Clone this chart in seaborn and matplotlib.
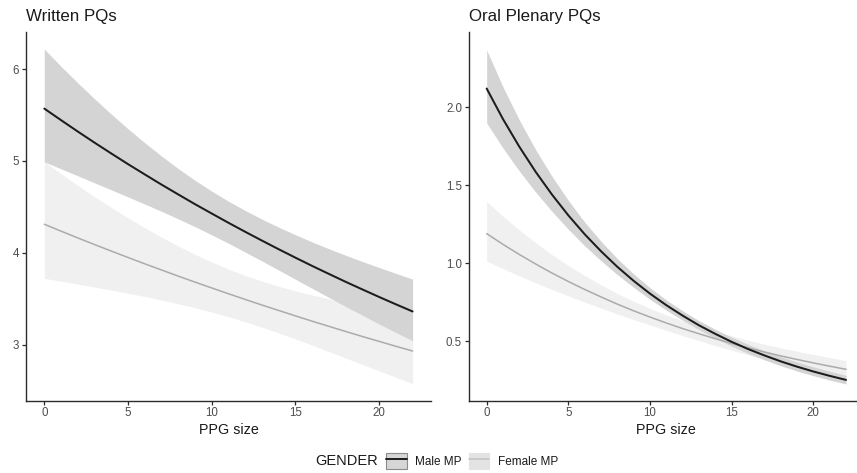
import matplotlib
matplotlib.use("Agg")
import matplotlib.pyplot as plt
import pandas as pd
import seaborn as sns
from matplotlib.patches import Patch
from matplotlib.lines import Line2D
from matplotlib.legend_handler import HandlerTuple

# PPG size grid at which the fitted curves are reported
ppg_size = list(range(0, 23))

# Written PQs: fitted counts and 95% intervals
written_male_fit = [5.570, 5.444, 5.320, 5.199, 5.081, 4.965, 4.853, 4.742, 4.635, 4.529, 4.427, 4.326,
                    4.228, 4.132, 4.038, 3.946, 3.856, 3.769, 3.683, 3.600, 3.518, 3.438, 3.360]
written_male_lo = [4.990, 4.914, 4.838, 4.761, 4.685, 4.608, 4.530, 4.451, 4.369, 4.284, 4.195, 4.103,
                   4.007, 3.910, 3.811, 3.711, 3.612, 3.513, 3.415, 3.319, 3.224, 3.131, 3.040]
written_male_hi = [6.218, 6.030, 5.850, 5.677, 5.510, 5.350, 5.198, 5.053, 4.917, 4.789, 4.671, 4.561,
                   4.460, 4.366, 4.278, 4.196, 4.117, 4.043, 3.972, 3.904, 3.839, 3.775, 3.713]
written_female_fit = [4.310, 4.235, 4.161, 4.089, 4.018, 3.948, 3.879, 3.812, 3.745, 3.680, 3.616, 3.553,
                      3.491, 3.430, 3.371, 3.312, 3.254, 3.198, 3.142, 3.087, 3.034, 2.981, 2.929]
written_female_lo = [3.721, 3.690, 3.658, 3.626, 3.593, 3.558, 3.523, 3.485, 3.444, 3.401, 3.354, 3.303,
                     3.248, 3.189, 3.126, 3.061, 2.993, 2.923, 2.853, 2.783, 2.713, 2.643, 2.575]
written_female_hi = [4.993, 4.861, 4.733, 4.611, 4.493, 4.380, 4.272, 4.169, 4.073, 3.982, 3.898, 3.822,
                     3.752, 3.690, 3.634, 3.584, 3.539, 3.498, 3.460, 3.425, 3.392, 3.361, 3.332]

# Oral Plenary PQs: fitted counts and 95% intervals
oral_male_fit = [2.120, 1.924, 1.747, 1.586, 1.440, 1.307, 1.186, 1.077, 0.977, 0.887, 0.805, 0.731,
                 0.664, 0.602, 0.547, 0.496, 0.450, 0.409, 0.371, 0.337, 0.306, 0.278, 0.252]
oral_male_lo = [1.899, 1.738, 1.591, 1.456, 1.332, 1.218, 1.112, 1.016, 0.927, 0.845, 0.769, 0.699,
                0.634, 0.574, 0.519, 0.468, 0.422, 0.381, 0.343, 0.309, 0.279, 0.251, 0.226]
oral_male_hi = [2.367, 2.130, 1.918, 1.728, 1.557, 1.403, 1.264, 1.141, 1.030, 0.931, 0.843, 0.764,
                0.695, 0.632, 0.576, 0.526, 0.480, 0.439, 0.401, 0.367, 0.336, 0.308, 0.281]
oral_female_fit = [1.190, 1.121, 1.056, 0.995, 0.937, 0.883, 0.832, 0.784, 0.738, 0.695, 0.655, 0.617,
                   0.581, 0.548, 0.516, 0.486, 0.458, 0.431, 0.406, 0.383, 0.361, 0.340, 0.320]
oral_female_lo = [1.014, 0.966, 0.919, 0.875, 0.832, 0.791, 0.751, 0.713, 0.675, 0.639, 0.604, 0.570,
                  0.536, 0.504, 0.472, 0.442, 0.414, 0.386, 0.360, 0.337, 0.314, 0.293, 0.273]
oral_female_hi = [1.396, 1.301, 1.213, 1.132, 1.055, 0.986, 0.921, 0.862, 0.806, 0.756, 0.710, 0.668,
                  0.630, 0.596, 0.564, 0.534, 0.507, 0.481, 0.457, 0.436, 0.415, 0.395, 0.376]

panel_titles = ["Written PQs", "Oral Plenary PQs"]
genders = ["Male MP", "Female MP"]
written_yticks = [3, 4, 5, 6]
oral_yticks = [0.5, 1.0, 1.5, 2.0]
xticks = [0, 5, 10, 15, 20]


def panel_frame(panel, male, female):
    rows = []
    for gender, (fit, lo, hi) in zip(genders, [male, female]):
        for x, f, l, h in zip(ppg_size, fit, lo, hi):
            rows.append({"panel": panel, "GENDER": gender, "PPG size": x,
                         "fit": f, "lo": l, "hi": h})
    return pd.DataFrame(rows)


df = pd.concat([
    panel_frame(panel_titles[0],
                (written_male_fit, written_male_lo, written_male_hi),
                (written_female_fit, written_female_lo, written_female_hi)),
    panel_frame(panel_titles[1],
                (oral_male_fit, oral_male_lo, oral_male_hi),
                (oral_female_fit, oral_female_lo, oral_female_hi)),
], ignore_index=True)

sns.set_theme(style="white")
plt.rcParams["font.family"] = ["Liberation Sans", "DejaVu Sans"]

line_col = {"Male MP": "#1c1c1c", "Female MP": "#ababab"}
band_col = {"Male MP": "#d4d4d4", "Female MP": "#f0f0f0"}
line_w = {"Male MP": 1.45, "Female MP": 1.1}

W, H = 857, 473
fig = plt.figure(figsize=(W / 100, H / 100), dpi=100)
fig.patch.set_facecolor("white")

bottom = 72.5 / H
height = 368.1 / H
ax_left = fig.add_axes([25.9 / W, bottom, 405.1 / W, height])
ax_right = fig.add_axes([468.7 / W, bottom, 395.3 / W, height])

settings = [
    (ax_left, panel_titles[0], (2.39, 6.40), written_yticks, ["3", "4", "5", "6"]),
    (ax_right, panel_titles[1], (0.12, 2.48), oral_yticks, ["0.5", "1.0", "1.5", "2.0"]),
]

for ax, title, ylim, yt, ytl in settings:
    sub = df[df["panel"] == title]
    # ribbons: female underneath, male on top
    for g in ["Female MP", "Male MP"]:
        s = sub[sub["GENDER"] == g]
        ax.fill_between(s["PPG size"], s["lo"], s["hi"], color=band_col[g],
                        linewidth=0, zorder=1)
    for g in ["Female MP", "Male MP"]:
        s = sub[sub["GENDER"] == g]
        sns.lineplot(data=s, x="PPG size", y="fit", ax=ax, color=line_col[g],
                     linewidth=line_w[g], estimator=None, legend=False, zorder=3)
    ax.set_xlim(-1.1, 23.1)
    ax.set_ylim(*ylim)
    ax.set_xticks(xticks)
    ax.set_xticklabels([str(t) for t in xticks])
    ax.set_yticks(yt)
    ax.set_yticklabels(ytl)
    ax.set_facecolor("white")
    sns.despine(ax=ax)
    for side in ["left", "bottom"]:
        ax.spines[side].set_color("#2b2b2b")
        ax.spines[side].set_linewidth(1.0)
    ax.tick_params(axis="both", length=2.6, width=0.9, color="#2b2b2b",
                   labelcolor="#4d4d4d", labelsize=8.3, pad=2.2, left=True, bottom=True)
    ax.set_ylabel("")
    ax.set_xlabel("PPG size", fontsize=10.3, color="#1a1a1a", labelpad=2.5)
    ax.set_title(title, loc="left", fontsize=12.2, color="#1a1a1a", pad=8.5)
    ax.grid(False)

# legend along the bottom
fig.text(315 / W, 1 - 461 / H, "GENDER", fontsize=10.5, color="#1a1a1a",
         va="center", ha="left")
handles = [
    (Patch(facecolor="#d6d6d6", edgecolor="#8c8c8c", linewidth=0.8),
     Line2D([], [], color=line_col["Male MP"], linewidth=1.4)),
    (Patch(facecolor="#e3e3e3", edgecolor="#e3e3e3", linewidth=0.8),
     Line2D([], [], color="#c2c2c2", linewidth=1.1)),
]
fig.legend(handles, genders, handler_map={tuple: HandlerTuple(ndivide=1, pad=0)},
           loc="center left", bbox_to_anchor=(386 / W, 1 - 461 / H), ncol=2,
           frameon=False, fontsize=8.5, handlelength=1.75, handleheight=1.75,
           handletextpad=0.7, columnspacing=0.62, borderpad=0, borderaxespad=0,
           labelcolor="#1a1a1a")

fig.savefig("out.png", dpi=100, facecolor="white")
